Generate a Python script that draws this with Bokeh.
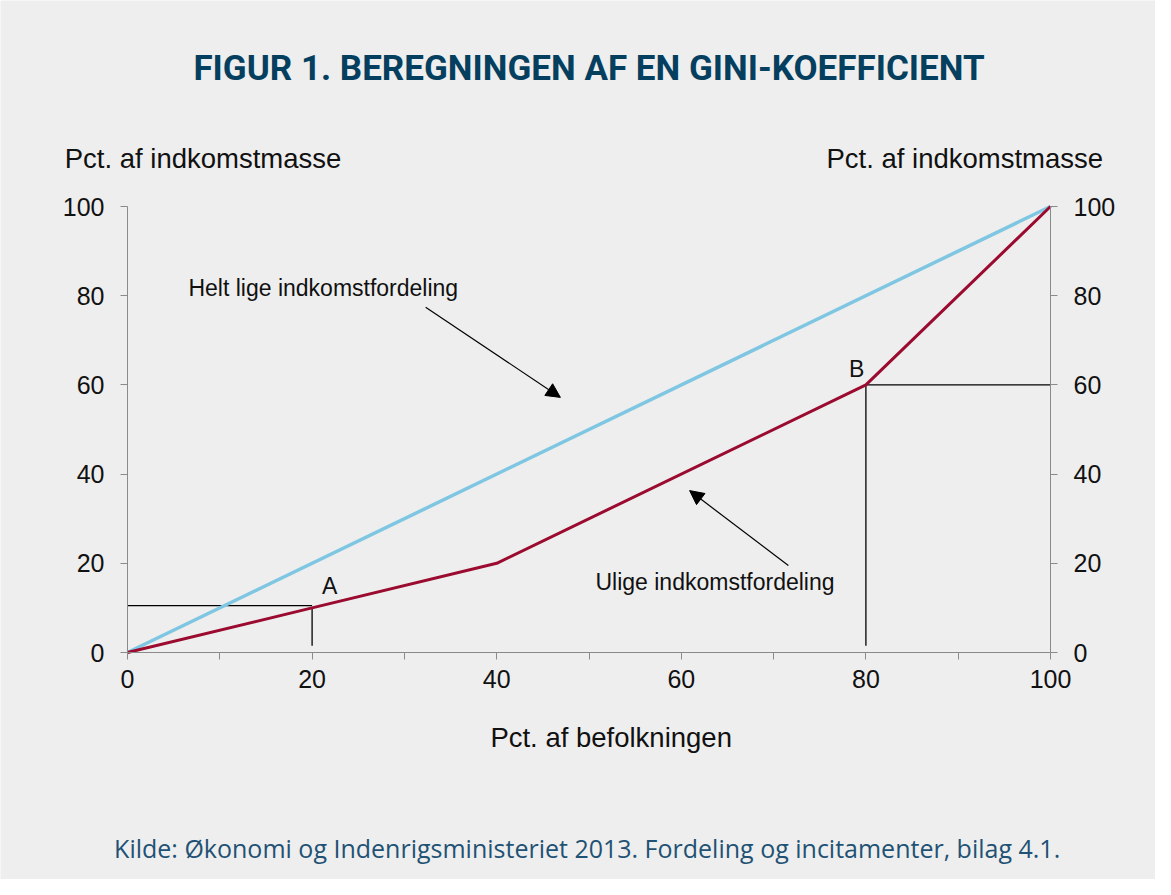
from bokeh.plotting import figure
from bokeh.models import (LinearAxis, FixedTicker, Label, Arrow, NormalHead,
                          Range1d)
from bokeh.embed import file_html
from bokeh.resources import INLINE

# ---------------- data ----------------
pop_equal = [0, 100]
income_equal = [0, 100]
pop_unequal = [0, 20, 40, 80, 100]
income_unequal = [0, 10, 20, 60, 100]
point_names = ["A", "B"]
point_x = [20, 80]
point_y = [10, 60]
x_ticks = [0, 20, 40, 60, 80, 100]
x_minor_ticks = [10, 30, 50, 70, 90]
y_ticks = [0, 20, 40, 60, 80, 100]

title_text = "FIGUR 1. BEREGNINGEN AF EN GINI-KOEFFICIENT"
y_title = "Pct. af indkomstmasse"
x_title = "Pct. af befolkningen"
source_text = "Kilde: Økonomi og Indenrigsministeriet 2013. Fordeling og incitamenter, bilag 4.1."
equal_label = "Helt lige indkomstfordeling"
unequal_label = "Ulige indkomstfordeling"

# ---------------- layout / style ----------------
BG = "#eeeeee"
AX = "#8a8a8a"
FONT = "Liberation Sans"
W, H = 1155, 879
PL, PR, PT, PB = 127, 1050, 206, 652   # pixel positions of the 0..100 box
sx = (PR - PL) / 100.0
sy = (PB - PT) / 100.0
xr = Range1d(-PL / sx, 100 + (W - PR) / sx)
yr = Range1d(-(H - PB) / sy, 100 + PT / sy)

p = figure(width=W, height=H, output_backend="svg", toolbar_location=None,
           x_range=xr, y_range=yr, x_axis_location=None, y_axis_location=None,
           min_border_left=0, min_border_right=0, min_border_top=0,
           min_border_bottom=0, background_fill_color=BG, border_fill_color=BG)
p.outline_line_color = None
p.grid.visible = False

yticker = FixedTicker(ticks=y_ticks, minor_ticks=[])
ax_left = LinearAxis(ticker=yticker, fixed_location=0, bounds=(0, 100))
ax_right = LinearAxis(ticker=yticker, fixed_location=100, bounds=(0, 100))
ax_bottom = LinearAxis(ticker=FixedTicker(ticks=x_ticks, minor_ticks=x_minor_ticks),
                       fixed_location=0, bounds=(0, 100))
p.add_layout(ax_left, "left")
p.add_layout(ax_right, "right")
p.add_layout(ax_bottom, "below")
for ax in (ax_left, ax_right, ax_bottom):
    ax.axis_line_color = AX
    ax.axis_line_width = 1
    ax.major_tick_line_color = AX
    ax.major_tick_out = 7
    ax.major_tick_in = 0
    ax.minor_tick_line_color = AX
    ax.minor_tick_out = 7
    ax.minor_tick_in = 0
    ax.major_label_text_font = FONT
    ax.major_label_text_font_size = "25px"
    ax.major_label_text_color = "#111111"
    ax.major_label_standoff = 16
ax_bottom.major_label_standoff = 10
ax_left.minor_tick_line_color = None
ax_right.minor_tick_line_color = None

# guide lines to points A and B
xa, xb = point_x
ya, yb = point_y
guide_bottom = 1.5
p.line([0, xa], [ya + 0.5, ya + 0.5], line_color="black", line_width=1.3)
p.line([xa, xa], [ya, guide_bottom], line_color="black", line_width=1.3)
p.line([xb, 100], [yb, yb], line_color="black", line_width=1.3)
p.line([xb, xb], [yb, guide_bottom], line_color="black", line_width=1.3)

# curves
p.line(pop_equal, income_equal, line_color="#7ec6e2", line_width=3.5)
p.line(pop_unequal, income_unequal, line_color="#9b0a2f", line_width=3)


def label(x, y, text, size, align="left", font=FONT, color="#111111", style="normal"):
    p.add_layout(Label(x=x, y=y, text=text, text_align=align,
                       text_baseline="middle", text_font=font,
                       text_font_size=size, text_color=color,
                       text_font_style=style))


# point labels
label(xa + 1.9, ya + 5.0, point_names[0], "23px", "center")
label(xb - 1.0, yb + 3.5, point_names[1], "23px", "center")

# annotations
label(6.6, 81.8, equal_label, "23px")
label(50.7, 15.7, unequal_label, "23px")
p.add_layout(Arrow(x_start=32.3, y_start=77.4, x_end=46.9, y_end=57.2,
                   line_color="black", line_width=1.2,
                   end=NormalHead(size=14, fill_color="black", line_color="black")))
p.add_layout(Arrow(x_start=71.6, y_start=19.5, x_end=60.9, y_end=36.3,
                   line_color="black", line_width=1.2,
                   end=NormalHead(size=14, fill_color="black", line_color="black")))

# axis titles
label(-6.8, 110.8, y_title, "27.5px", "left")
label(105.7, 110.8, y_title, "27.5px", "right")
label(52.4, -19.1, x_title, "27.5px", "center")

# title and source
label(50, 131.0, title_text, "35px", "center", font="Roboto",
      color="#053f60", style="bold")
label(49.8, -43.9, source_text, "25px", "center", font="Open Sans", color="#1f5274")

open("out.html", "w").write(file_html(p, INLINE))
